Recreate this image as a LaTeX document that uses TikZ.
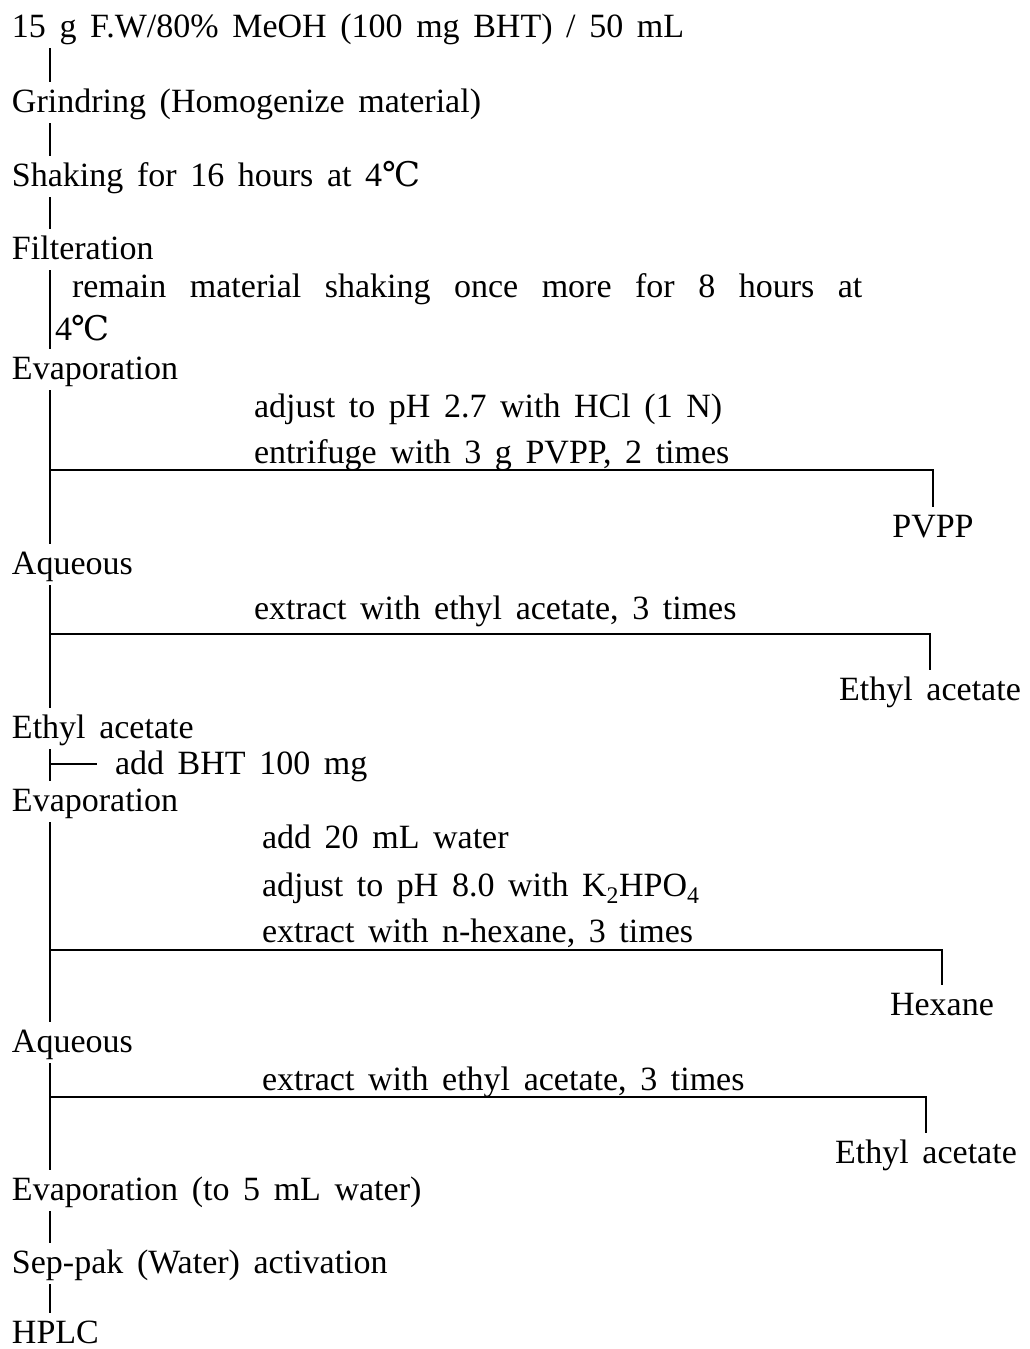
\documentclass[tikz,border=0pt]{standalone}
\usepackage{fontspec}
\setmainfont{Liberation Serif}[WordSpace=1.6]
\newfontfamily\degfont{DejaVu Serif}
\newcommand{\degC}{{\degfont ℃}}
\usetikzlibrary{calc}
\begin{document}
\begin{tikzpicture}[x=1pt,y=-1pt,
  every node/.style={font=\fontsize{34}{40}\selectfont, inner sep=0pt, outer sep=0pt, text height=24.5pt, text depth=7.5pt},
  stepnode/.style={anchor=base west},
  notenode/.style={anchor=base west},
  sidenode/.style={anchor=base},
  flow/.style={line width=1.5pt, shorten <=3.5pt, shorten >=5.5pt},
  branch/.style={line width=1.5pt, shorten >=5.5pt},
  tick/.style={line width=1.5pt, shorten >=18pt}]
\useasboundingbox (0,0) rectangle (1029,1349);
\coordinate (sp) at (50,0);
% main column
\node[stepnode] (n1) at (12,37) {15 g F.W/80\% MeOH (100 mg BHT) / 50 mL};
\node[stepnode] (n2) at (12,112) {Grindring (Homogenize material)};
\node[stepnode] (n3) at (12,186) {Shaking for 16 hours at 4\degC};
\node[stepnode] (n4) at (12,259) {Filteration};
\node[notenode] (m1) at (72,297) {\spaceskip=23.5pt remain material shaking once more for 8 hours at};
\node[notenode] (m2) at (55,340) {4\degC};
\node[stepnode] (n5) at (12,379) {Evaporation};
\node[notenode] (a1) at (254,417) {adjust to pH 2.7 with HCl (1 N)};
\node[notenode] (a2) at (254,463) {entrifuge with 3 g PVPP, 2 times};
\node[sidenode] (s1) at (933,537) {PVPP};
\node[stepnode] (n6) at (12,574) {Aqueous};
\node[notenode] (b1) at (254,619) {extract with ethyl acetate, 3 times};
\node[sidenode] (s2) at (930,700) {Ethyl acetate};
\node[stepnode] (n7) at (12,738) {Ethyl acetate};
\node[notenode] (c1) at (115,774) {add BHT 100 mg};
\node[stepnode] (n8) at (12,811) {Evaporation};
\node[notenode] (d1) at (262,848) {add 20 mL water};
\node[notenode] (d2) at (262,896) {adjust to pH 8.0 with K\textsubscript{2}HPO\textsubscript{4}};
\node[notenode] (d3) at (262,942) {extract with n-hexane, 3 times};
\node[sidenode] (s3) at (942,1015) {Hexane};
\node[stepnode] (n9) at (12,1052) {Aqueous};
\node[notenode] (e1) at (262,1090) {extract with ethyl acetate, 3 times};
\node[sidenode] (s4) at (926,1163) {Ethyl acetate};
\node[stepnode] (n10) at (12,1200) {Evaporation (to 5 mL water)};
\node[stepnode] (n11) at (12,1273) {Sep-pak (Water) activation};
\node[stepnode, text depth=0pt] (n12) at (12,1343) {HPLC};
% junctions
\coordinate (j1) at (50,470);
\coordinate (j2) at (50,634);
\coordinate (j3) at (50,950);
\coordinate (j4) at (50,1097);
\coordinate (j5) at (50,764);
% spine connectors
\draw[flow] (n1.south -| sp) -- (n2.north -| sp);
\draw[flow] (n2.south -| sp) -- (n3.north -| sp);
\draw[flow] (n3.south -| sp) -- (n4.north -| sp);
\draw[flow] (n4.south -| sp) -- (n5.north -| sp);
\draw[flow] (n5.south -| sp) -- (n6.north -| sp);
\draw[flow] (n6.south -| sp) -- (n7.north -| sp);
\draw[flow] (n7.south -| sp) -- (n8.north -| sp);
\draw[flow] (n8.south -| sp) -- (n9.north -| sp);
\draw[flow] (n9.south -| sp) -- (n10.north -| sp);
\draw[flow] (n10.south -| sp) -- (n11.north -| sp);
\draw[flow] (n11.south -| sp) -- (n12.north -| sp);
% side branches
\draw[branch] (j1) -| (s1.north);
\draw[branch] (j2) -| (s2.north);
\draw[branch] (j3) -| (s3.north);
\draw[branch] (j4) -| (s4.north);
\draw[tick] (j5) -- (c1.west |- j5);
\end{tikzpicture}
\end{document}
